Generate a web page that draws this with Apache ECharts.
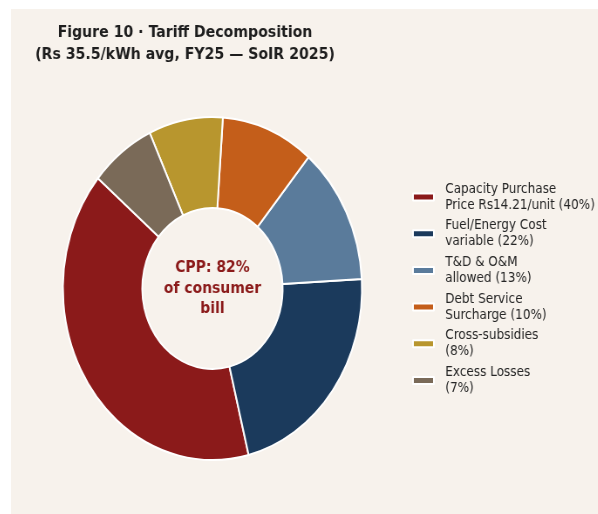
<!DOCTYPE html>
<html><head><meta charset="utf-8">
<script src="https://cdn.jsdelivr.net/npm/echarts@6/dist/echarts.min.js"></script>
<style>
html,body{margin:0;padding:0;background:#ffffff;width:598px;height:514px;overflow:hidden;}
#wrap{position:absolute;left:11px;top:9px;width:673px;height:505px;transform:scaleX(0.872);transform-origin:0 0;}
</style></head><body><div id="wrap"></div>
<script>
const categories = [
  "Capacity Purchase\nPrice Rs14.21/unit (40%)",
  "Fuel/Energy Cost\nvariable (22%)",
  "T&D & O&M\nallowed (13%)",
  "Debt Service\nSurcharge (10%)",
  "Cross-subsidies\n(8%)",
  "Excess Losses\n(7%)"
];
const values = [40, 22, 13, 10, 8, 7];
const colors = ["#8b1a1a", "#1b3a5c", "#5a7b9b", "#c45e1a", "#b8962e", "#7a6a58"];
const titleText = "Figure 10 · Tariff Decomposition\n(Rs 35.5/kWh avg, FY25 — SoIR 2025)";
const centerText = "CPP: 82%\nof consumer\nbill";

const chart = echarts.init(document.getElementById('wrap'), null, {renderer: 'canvas'});
const font = "'DejaVu Sans', sans-serif";
chart.setOption({
  backgroundColor: '#f7f2ec',
  animation: false,
  title: [
    {
      text: titleText, left: 199.5, top: 13, padding: 0, textAlign: 'center',
      textStyle: {fontFamily: font, fontSize: 16.2, fontWeight: 'bold', color: '#1e1e1e', lineHeight: 22}
    },
    {
      text: centerText, left: 231, top: 249, padding: 0, textAlign: 'center',
      textStyle: {fontFamily: font, fontSize: 16, fontWeight: 'bold', color: '#8b1a1a', lineHeight: 20.5}
    }
  ],
  legend: {
    orient: 'vertical', left: 460, top: 172, padding: 0,
    icon: 'rect', itemWidth: 24, itemHeight: 7, itemGap: 4.7,
    selectedMode: false,
    data: categories,
    textStyle: {fontFamily: font, fontSize: 13.8, lineHeight: 16, color: '#262626', padding: [0, 0, 0, 8]}
  },
  series: [{
    type: 'pie',
    center: [231, 279.5],
    radius: [80.5, 171.5],
    startAngle: 140,
    clockwise: false,
    label: {show: false},
    labelLine: {show: false},
    emphasis: {disabled: true},
    itemStyle: {borderColor: '#ffffff', borderWidth: 2},
    data: categories.map((c, i) => ({name: c, value: values[i], itemStyle: {color: colors[i]}}))
  }]
});
</script>
</body></html>
